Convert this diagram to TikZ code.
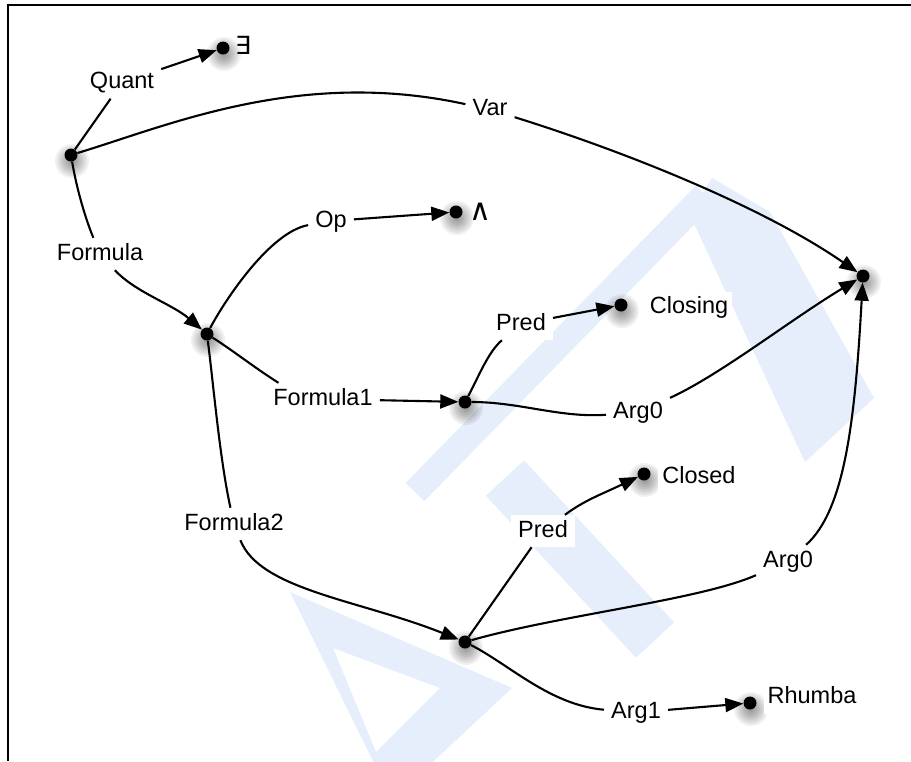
\documentclass[tikz,border=0pt]{standalone}
\usepackage{fontspec}
\setmainfont{Liberation Sans}
\newfontfamily\symfont{DejaVu Sans}
\usetikzlibrary{arrows.meta}
\definecolor{wmark}{RGB}{230,238,251}

\tikzset{
  dotnode/.style={circle, fill=black, inner sep=0pt, minimum size=13pt},
  lbl/.style={fill=white, inner xsep=7pt, inner ysep=5pt, text height=17pt,
              text depth=5pt, font=\fontsize{23.5}{28}\selectfont},
  valtext/.style={fill=white, inner xsep=4pt, inner ysep=5pt, text height=17pt,
              text depth=5pt, font=\fontsize{23.5}{28}\selectfont},
  symtext/.style={inner sep=1pt, font=\symfont\fontsize{25}{30}\selectfont},
  wedgetext/.style={inner sep=1pt, font=\symfont\fontsize{30}{34}\selectfont},
  link/.style={line width=2.1pt},
  arr/.style={link, -{Triangle[length=18pt,width=14pt]}},
  borderline/.style={line width=2.6pt},
  wmk/.style={draw=none, fill=wmark},
  wmkline/.style={draw=wmark},
}

% soft shadow under a dot
\newcommand\dotshade[1]{%
  \foreach \rr in {17,15,13,11,9,7,5,3}{%
    \fill[black, opacity=0.055] ([shift={(1,6)}]#1) circle[radius=\rr pt];}}

\begin{document}
\begin{tikzpicture}[x=1pt, y=-1pt]
\useasboundingbox (0,0) rectangle (911,761);
\fill[white] (0,0) rectangle (911,761);

% faint logo in the background
\begin{scope}
  \clip (0,0) rectangle (911,761);
  \fill[wmk] (712,178) -- (770,212) -- (874,398) -- (805,462) -- (690,215) -- cycle;
  \draw[wmkline, line width=26pt] (705,195) -- (415,492);
  \draw[wmkline, line width=52pt] (505,478) -- (655,640);
  \fill[wmk, even odd rule] (290,592) -- (512,688) -- (392,800) -- cycle
                            (333,648) -- (440,688) -- (376,752) -- cycle;
\end{scope}

% frame
\draw[borderline] (8,761) -- (8,5) -- (911,5);

% dot positions
\coordinate (pR)  at (71,155);
\coordinate (pE)  at (223,48);
\coordinate (pF)  at (207,334);
\coordinate (pW)  at (456,212);
\coordinate (pF1) at (465,402);
\coordinate (pCg) at (621,305);
\coordinate (pT)  at (863,276);
\coordinate (pF2) at (465,642);
\coordinate (pCd) at (644,474);
\coordinate (pRh) at (750,703);

\foreach \p in {pR,pE,pF,pW,pF1,pCg,pT,pF2,pCd,pRh}{\dotshade{\p}}

% dots
\node[dotnode] (R)  at (pR)  {};
\node[dotnode] (E)  at (pE)  {};
\node[dotnode] (F)  at (pF)  {};
\node[dotnode] (W)  at (pW)  {};
\node[dotnode] (F1) at (pF1) {};
\node[dotnode] (Cg) at (pCg) {};
\node[dotnode] (T)  at (pT)  {};
\node[dotnode] (F2) at (pF2) {};
\node[dotnode] (Cd) at (pCd) {};
\node[dotnode] (Rh) at (pRh) {};

% values beside the dots
\node[symtext] (Etxt) at (243,45) {∃};
\node[wedgetext] (Wtxt) at (480,212) {∧};
\node[valtext] (closing) at (689,307.5) {Closing};
\node[valtext] (closed)  at (699,477) {Closed};
\node[valtext] (rhumba)  at (812,697.5) {Rhumba};

% edge labels
\node[lbl] (quant)   at (122,82.5) {Quant};
\node[lbl] (var)     at (490,109.5) {Var};
\node[lbl] (formula) at (100,254) {Formula};
\node[lbl] (op)      at (331,221) {Op};
\node[lbl] (fone)    at (323,399) {Formula1};
\node[lbl] (predA)   at (521,324) {Pred};
\node[lbl] (argA)    at (638,412.5) {Arg0};
\node[lbl] (ftwo)    at (234,524) {Formula2};
\node[lbl] (predB)   at (543,531) {Pred};
\node[lbl] (argB)    at (788,561) {Arg0};
\node[lbl] (argC)    at (636,712.5) {Arg1};

% connectors
\draw[link] (R) -- (quant);
\draw[arr]  (quant) -- (E);
\draw[link] (R) .. controls (170,125) and (300,68) .. (var);
\draw[arr]  (var) .. controls (620,150) and (760,205) .. (T);
\draw[link] (R) .. controls (76,185) and (84,215) .. (formula);
\draw[arr]  (formula) .. controls (135,292) and (172,304) .. (F);
\draw[link] (F) .. controls (225,300) and (270,232) .. (op);
\draw[arr]  (op) -- (W);
\draw[link] (F) .. controls (235,352) and (255,368) .. (fone.160);
\draw[arr]  (fone) -- (F1);
\draw[link] (F1) .. controls (478,378) and (488,352) .. (predA);
\draw[arr]  (predA) -- (Cg);
\draw[link] (F1) .. controls (520,402) and (560,418) .. (argA);
\draw[arr]  (argA) .. controls (720,375) and (790,320) .. (T);
\draw[link] (F) .. controls (214,390) and (220,460) .. (ftwo);
\draw[arr]  (ftwo) .. controls (260,590) and (360,600) .. (F2);
\draw[link] (F2) -- (predB);
\draw[arr]  (predB) .. controls (585,500) and (600,495) .. (Cd);
\draw[link] (F2) .. controls (560,615) and (700,600) .. (argB);
\draw[arr]  (argB) .. controls (845,510) and (855,420) .. (T);
\draw[link] (F2) .. controls (510,665) and (550,705) .. (argC);
\draw[arr]  (argC) -- (Rh);
\end{tikzpicture}
\end{document}
